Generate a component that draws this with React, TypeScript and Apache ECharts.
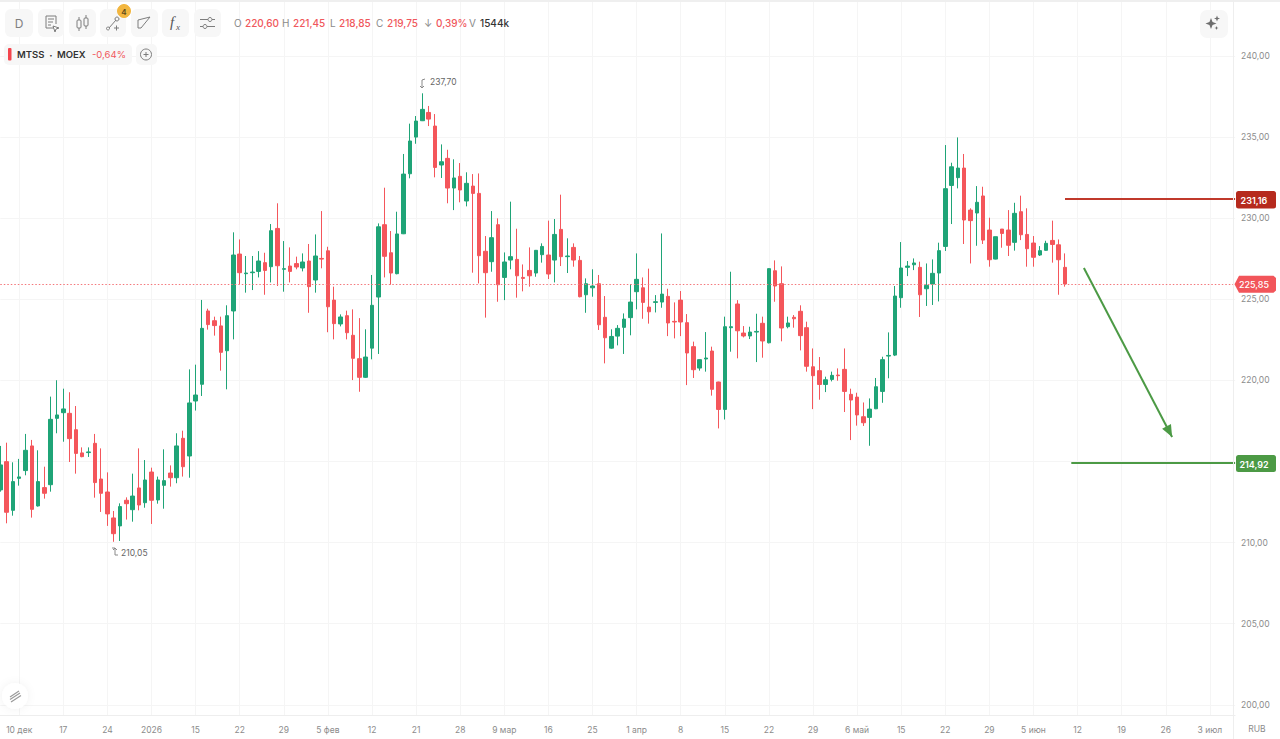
import React, { useEffect, useRef } from "react";
import * as echarts from "echarts";

const opens = [
  213.25,214.99,211.99,213.96,214.44,215.96,212.26,213.39,213.57,217.66,
  218.01,217.97,216.96,215.53,215.55,216.12,213.92,213.12,211.52,211.03,
  212.61,212.03,213.37,212.46,214.35,212.63,213.53,214.29,214.00,216.43,
  215.34,218.73,219.76,224.28,223.68,223.36,221.83,224.28,227.79,226.58,
  226.64,226.72,227.26,227.01,229.37,226.85,227.05,227.20,226.93,227.36,
  226.19,227.52,227.99,224.95,223.48,223.99,222.78,221.34,220.19,221.99,
  225.14,229.60,227.87,226.58,229.04,232.74,235.00,236.01,236.52,235.68,
  233.28,233.69,231.86,232.58,231.06,231.98,231.53,227.96,227.32,229.60,
  226.35,227.42,227.46,226.35,226.78,226.62,227.75,227.73,227.42,229.31,
  227.63,228.20,227.40,225.28,225.71,225.96,223.89,221.99,222.73,223.27,
  223.87,225.47,225.71,224.52,224.81,224.83,225.18,223.64,224.95,223.56,
  222.08,220.76,221.32,221.81,219.90,218.21,223.25,224.71,222.92,222.74,
  222.98,223.52,222.32,226.76,225.96,223.31,223.89,224.26,223.25,220.84,
  220.60,219.75,220.06,220.33,220.68,219.14,218.97,217.76,217.72,218.25,
  219.32,221.50,221.56,225.10,226.97,227.13,226.97,225.65,225.94,226.62,
  228.26,232.02,232.50,233.09,230.50,230.32,231.37,229.27,227.48,229.33,
  229.27,228.51,230.40,229.00,228.47,227.73,228.02,228.63,228.36,226.97,
];
const closes = [
  214.79,211.87,213.76,214.05,215.69,212.05,213.76,213.04,217.60,217.87,
  218.24,216.41,215.50,215.30,215.59,213.70,213.04,211.77,210.55,212.22,
  212.40,212.87,212.32,213.86,212.61,213.86,213.82,214.00,215.96,214.68,
  218.61,219.10,223.21,223.44,223.38,221.73,223.99,227.73,226.64,226.62,
  226.68,227.36,226.78,229.23,227.07,226.89,226.72,226.99,227.30,225.78,
  227.67,227.48,224.54,223.50,223.91,222.94,221.36,220.19,221.44,224.63,
  229.47,227.65,226.62,229.03,232.72,234.76,235.99,236.71,236.11,233.13,
  233.48,231.86,232.48,231.74,232.15,231.53,227.69,226.64,228.80,225.90,
  227.30,227.63,226.45,226.29,226.45,228.02,228.26,226.56,229.00,227.63,
  227.67,227.42,225.16,225.96,225.82,223.43,222.63,222.71,223.21,223.78,
  224.83,226.23,224.81,224.23,224.85,225.32,223.54,223.60,223.60,221.69,
  220.66,221.28,221.38,219.45,218.21,223.31,223.31,223.06,222.74,222.98,
  223.02,222.43,226.89,225.82,223.23,223.54,223.80,222.76,220.87,220.29,
  219.75,220.04,220.31,220.29,219.32,218.79,217.87,217.39,218.23,219.61,
  221.28,221.54,225.20,226.93,227.05,227.24,225.28,225.86,226.60,228.00,
  231.82,233.17,233.09,229.89,229.85,230.98,228.65,227.44,228.86,229.06,
  228.33,230.30,228.98,228.12,227.59,228.00,228.45,228.38,227.44,225.94,
];
const lows = [
  213.14,211.19,211.66,213.51,214.15,211.54,212.22,212.71,213.14,216.74,
  216.22,214.97,214.25,215.26,215.28,212.77,211.89,211.03,210.05,210.10,
  211.42,211.29,211.99,212.15,211.15,212.40,212.09,213.45,213.66,214.07,
  214.00,218.14,219.04,223.13,222.76,220.60,219.45,222.53,225.94,225.41,
  225.57,226.35,225.28,226.04,225.82,225.47,226.04,226.85,226.72,224.17,
  225.41,226.91,222.97,222.53,223.33,222.53,220.02,219.30,220.15,221.30,
  221.63,226.35,225.90,226.54,229.02,232.46,234.59,235.99,235.68,232.52,
  232.48,230.92,230.50,230.98,230.73,226.64,225.98,223.87,226.70,224.85,
  224.95,226.85,225.10,225.49,225.78,226.39,227.26,226.25,226.04,227.05,
  226.62,227.01,225.12,224.17,225.16,223.11,221.05,221.95,222.16,221.63,
  222.78,224.38,223.80,223.50,224.19,224.48,222.73,222.59,222.73,219.71,
  220.15,220.60,220.54,219.06,217.04,217.59,221.77,221.36,222.65,222.55,
  221.13,221.40,222.28,224.85,222.41,223.21,223.25,221.85,220.54,218.23,
  218.81,219.28,219.94,219.98,218.05,216.32,217.21,217.19,215.97,218.23,
  218.62,220.13,221.50,224.48,226.43,226.80,223.91,224.59,224.65,224.87,
  227.98,229.64,231.84,228.41,227.21,228.30,228.41,227.01,227.46,228.18,
  227.67,228.00,228.65,227.01,227.01,227.67,228.00,227.26,225.28,225.78,
];
const highs = [
  215.96,216.16,214.95,215.16,216.70,216.33,215.69,214.68,219.00,220.01,
  219.49,219.27,218.42,215.87,215.87,216.70,215.81,214.33,211.95,212.42,
  212.79,214.25,215.81,215.09,214.62,214.07,215.75,214.76,216.74,216.90,
  220.68,220.97,224.96,224.42,223.93,223.93,224.63,229.13,228.69,227.67,
  227.67,227.97,227.87,229.64,230.92,228.59,228.20,227.63,227.83,228.41,
  229.00,230.44,228.24,225.78,224.07,224.30,224.38,223.84,223.15,226.50,
  229.68,231.88,229.21,230.40,233.96,235.83,236.30,237.70,236.92,236.42,
  234.55,234.22,233.63,233.40,232.83,232.72,232.76,228.90,230.44,229.99,
  227.89,231.02,229.35,227.15,228.20,228.04,228.45,229.85,229.95,231.45,
  228.76,228.45,227.67,226.29,226.85,226.50,225.20,223.15,223.41,224.13,
  225.94,227.83,226.35,226.89,225.26,229.06,225.65,224.81,225.51,224.09,
  222.39,221.30,222.98,222.08,219.92,223.93,226.70,224.95,223.35,223.31,
  224.11,223.93,226.91,227.40,227.03,223.93,224.03,224.63,223.62,221.97,
  221.44,220.23,220.54,220.74,221.97,219.49,219.24,218.64,218.89,220.15,
  221.46,222.96,225.82,228.53,227.36,227.52,227.32,227.21,227.46,228.49,
  234.51,233.42,234.98,233.96,230.61,231.98,231.94,230.03,228.86,229.33,
  230.50,230.95,231.39,230.61,228.90,228.28,228.61,229.85,228.69,227.83,
];

const tickLabels = ["10 дек","17","24","2026","15","22","29","5 фев","12","21","28","9 мар","16","25","1 апр","8","15","22","29","6 май","15","22","29","5 июн","12","19","26","3 июл"];
const gridPrices = [200,205,210,215,220,225,230,235,240];
const labelPrices = [200,205,210,220,225,230,235,240];

const lastPriceText = "225,85";
const lastPriceLevel = 225.94;
const resistance = 231.18;
const resistanceText = "231,16";
const support = 214.94;
const supportText = "214,92";
const trendFrom = [172, 226.93];
const trendTo = [186, 216.51];
const resistanceFromIndex = 169;
const supportFromIndex = 170;
const highMark = "237,70";
const lowMark = "210,05";

const ohlcLine: [string, number, string][] = [
  ["O", 234, "#8a8a8a"], ["220,60", 245, "#f0575c"],
  ["H", 282, "#8a8a8a"], ["221,45", 293, "#f0575c"],
  ["L", 330, "#8a8a8a"], ["218,85", 339, "#f0575c"],
  ["C", 376, "#8a8a8a"], ["219,75", 387, "#f0575c"],
  ["↓", 424, "#8a8a8a"], ["0,39%", 436, "#f0575c"],
  ["V", 469, "#8a8a8a"], ["1544k", 480, "#333333"],
];

const FONT = "Inter, sans-serif";
const GREEN = "#1fa477";
const RED = "#f4565b";
const ICON = "#7d7d7d";
const BTN = "#f7f7f7";
const AXIS_TEXT = "#8c8c8c";
const GRID_LINE = "#f5f5f5";
const fmt = (v: number) => v.toFixed(2).replace(".", ",");

const txt = (text: string, x: number, y: number, fill: string, size: number, weight = 400, align = "left", extra: any = {}) => ({
  type: "text", z: extra.z || 10, style: { text, x, y, fill, font: `${extra.italic ? "italic " : ""}${weight} ${size}px ${extra.family || FONT}`, align, verticalAlign: "middle" },
});
const box = (x: number, y: number, width: number, height: number, fill: string, r = 6) => ({
  type: "rect", z: 9, shape: { x, y, width, height, r }, style: { fill, stroke: "none", lineWidth: 0 },
});
const ln = (points: number[][], stroke = ICON, lineWidth = 1) => ({
  type: "polyline", z: 11, shape: { points }, style: { stroke, lineWidth, fill: "none" },
});
const star = (cx: number, cy: number, r: number) => {
  const k = r * 0.28;
  return { type: "polygon", z: 11, shape: { points: [[cx, cy - r], [cx + k, cy - k], [cx + r, cy], [cx + k, cy + k], [cx, cy + r], [cx - k, cy + k], [cx - r, cy], [cx - k, cy - k]] }, style: { fill: "#6e6e6e" } };
};
const circ = (cx: number, cy: number, r: number, stroke: string, fill = "none", lineWidth = 1) => ({
  type: "circle", z: 11, shape: { cx, cy, r }, style: { stroke, fill, lineWidth },
});

function buildGraphics() {
  const g: any[] = [];
  g.push({ type: "rect", z: 8, shape: { x: 0, y: 0, width: 1280, height: 2 }, style: { fill: "#efefef" } });
  g.push({ type: "line", z: 8, shape: { x1: 1233.5, y1: 0, x2: 1233.5, y2: 739 }, style: { stroke: "#eeeeee", lineWidth: 1 } });

  [[5, 28], [38, 26], [69, 27], [100, 26], [131, 27], [162, 27], [194, 27]].forEach(([x, w]) => g.push(box(x, 9, w, 28, BTN)));
  g.push(txt("D", 19, 23, "#808080", 12, 400, "center"));
  // report icon
  g.push(ln([[55, 28], [46, 28], [46, 16], [56, 16], [56, 24]]), ln([[48, 19], [54, 19]]), ln([[48, 22], [53, 22]]), ln([[48, 25], [51, 25]]));
  g.push({ type: "polygon", z: 11, shape: { points: [[53, 26], [59, 28], [56, 29], [55, 32]] }, style: { stroke: ICON, fill: "#fff", lineWidth: 1 } });
  // candles icon
  g.push({ type: "rect", z: 11, shape: { x: 77, y: 20, width: 4, height: 8, r: 1 }, style: { stroke: ICON, fill: "none" } }, ln([[79, 17], [79, 20]]), ln([[79, 28], [79, 31]]));
  g.push({ type: "rect", z: 11, shape: { x: 84, y: 18, width: 4, height: 8, r: 1 }, style: { stroke: ICON, fill: "none" } }, ln([[86, 15], [86, 18]]), ln([[86, 26], [86, 29]]));
  // drawing tools icon and badge
  g.push(ln([[109, 28], [116, 20]]), circ(108, 28.5, 1.5, ICON), circ(117, 19, 2, ICON), ln([[114, 28], [119, 28]]), ln([[116.5, 25.5], [116.5, 30.5]]));
  g.push(circ(124, 11, 6.5, "#f2b63f", "#f2b63f"), txt("4", 124, 11.5, "#5d4a1a", 8, 600, "center", { z: 12 }));
  // shape icon
  g.push({ type: "polygon", z: 11, shape: { points: [[138, 20], [150, 17], [141, 28], [138, 28]] }, style: { stroke: ICON, fill: "none", lineWidth: 1 } });
  // function icon
  g.push(txt("f", 172, 22, "#555555", 15, 400, "center", { italic: true, family: "'Liberation Serif', serif" }));
  g.push(txt("x", 178, 27, "#555555", 9, 400, "center", { italic: true, family: "'Liberation Serif', serif" }));
  // settings icon
  g.push(ln([[200, 19.5], [215, 19.5]]), ln([[200, 26.5], [215, 26.5]]), circ(210, 19.5, 2, ICON, BTN), circ(205, 26.5, 2, ICON, BTN));

  ohlcLine.forEach(([t, x, c]) => g.push(txt(t, x, 22.5, c, 10, c === "#8a8a8a" ? 400 : 500)));

  g.push(box(4, 44, 128, 21, BTN, 5), box(136, 44, 21, 21, BTN, 5));
  g.push({ type: "rect", z: 10, shape: { x: 8, y: 48, width: 3.5, height: 12.5, r: 1 }, style: { fill: "#f4454d" } });
  g.push(txt("MTSS", 17, 54.5, "#333333", 9.5, 600), txt("·", 51, 54.5, "#333333", 10, 700, "center"), txt("MOEX", 57, 54.5, "#333333", 9.5, 600), txt("-0,64%", 92, 54.5, "#f0575c", 9.5, 400));
  g.push(circ(146, 54.5, 5.5, ICON), ln([[143.5, 54.5], [148.5, 54.5]]), ln([[146, 52], [146, 57]]));

  g.push(box(1200, 10, 28, 28, BTN, 7), star(1211, 23.5, 5.5), star(1217, 18.5, 3), star(1216.5, 28, 2));

  // extreme labels
  g.push(txt(highMark, 430, 82, "#666666", 8.5), ln([[425, 79], [422, 80], [422, 88]], "#8a8a8a"), ln([[420, 86], [422, 88], [424, 86]], "#8a8a8a"));
  g.push(txt(lowMark, 121, 553, "#666666", 8.5), ln([[118, 555], [115, 555], [115, 548], [112, 548]], "#8a8a8a"), ln([[113, 550], [115, 548], [117, 550]], "#8a8a8a"));

  // price tags
  g.push(box(1236, 191, 40, 17.5, "#b62a1d", 2.5), txt(resistanceText, 1254, 200, "#ffffff", 9, 600, "center"));
  g.push({ type: "polygon", z: 9, shape: { points: [[1239, 275.7], [1273.5, 275.7], [1276, 278], [1276, 290.5], [1273.5, 292.8], [1239, 292.8], [1234.5, 284.2]] }, style: { fill: "#f2555a" } });
  g.push(txt(lastPriceText, 1254, 284.5, "#ffffff", 9, 500, "center"));
  g.push(box(1236, 455, 40, 17, "#4c9a45", 2.5), txt(supportText, 1254, 464, "#ffffff", 9, 600, "center"));

  g.push(txt("RUB", 1257, 729, AXIS_TEXT, 8.5, 400, "center"));

  // ruler button
  g.push({ type: "circle", z: 9, shape: { cx: 15, cy: 696, r: 13 }, style: { fill: "#ffffff", stroke: "none", shadowBlur: 8, shadowColor: "rgba(0,0,0,0.06)" } });
  g.push(ln([[10, 697], [19, 691]], "#9a9a9a", 1.2), ln([[10, 699.5], [20, 693]], "#9a9a9a", 1.2), ln([[11, 702], [21, 695.5]], "#9a9a9a", 1.2));
  return g;
}

export default function App() {
  const ref = useRef<HTMLDivElement>(null);
  useEffect(() => {
    if (!ref.current) return;
    const chart = echarts.init(ref.current, undefined, { renderer: "svg" });
    const categoryCount = 197;
    const categories = Array.from({ length: categoryCount }, (_, i) =>
      i % 7 === 3 && tickLabels[(i - 3) / 7] ? tickLabels[(i - 3) / 7] : String(i)
    );
    const isTick = (i: number) => i % 7 === 3;
    const seg = (fromI: number, fromV: number, toI: number, toV: number, color: string, endSymbol = "none") => [
      { coord: [fromI, fromV], symbol: "none", lineStyle: { color, width: 2, type: "solid" } },
      { coord: [toI, toV], symbol: endSymbol, symbolSize: [10, 12], symbolOffset: [0, 6], itemStyle: { color } },
    ];
    chart.setOption({
      animation: false,
      backgroundColor: "#ffffff",
      textStyle: { fontFamily: FONT },
      grid: { left: 0.3, width: 1234.8, top: 0, height: 715, containLabel: false },
      xAxis: {
        type: "category",
        data: categories,
        boundaryGap: false,
        axisLine: { lineStyle: { color: "#eeeeee" } },
        axisTick: { show: false },
        axisLabel: { interval: (i: number) => isTick(i), color: AXIS_TEXT, fontSize: 8.5, margin: 10, fontFamily: FONT },
        splitLine: { show: true, interval: (i: number) => isTick(i), lineStyle: { color: GRID_LINE } },
      },
      yAxis: {
        type: "value",
        position: "right",
        scale: true,
        min: 199.371,
        max: 243.453,
        axisLine: { show: false },
        axisTick: { show: false, customValues: gridPrices },
        axisLabel: { customValues: labelPrices, formatter: (v: number) => fmt(v), color: AXIS_TEXT, fontSize: 8.5, margin: 6, padding: [2, 0, 0, 0], fontFamily: FONT },
        splitLine: { show: true, lineStyle: { color: GRID_LINE } },
      },
      series: [
        {
          type: "candlestick",
          barWidth: 4,
          data: opens.map((o, i) => [o, closes[i], lows[i], highs[i]]),
          itemStyle: { color: GREEN, color0: RED, borderColor: GREEN, borderColor0: RED, borderWidth: 1 },
          markLine: {
            silent: true,
            animation: false,
            symbol: ["none", "none"],
            label: { show: false },
            data: [
              { yAxis: lastPriceLevel, lineStyle: { color: "#f4767a", width: 1, type: [1.5, 2] } },
              seg(resistanceFromIndex, resistance, categoryCount - 1, resistance, "#c0392b"),
              seg(supportFromIndex, support, categoryCount - 1, support, "#4c9a45"),
              seg(trendFrom[0], trendFrom[1], trendTo[0], trendTo[1], "#4c9a45", "triangle"),
            ],
          },
        },
      ],
      graphic: { elements: buildGraphics() },
    });
    return () => chart.dispose();
  }, []);
  return <div ref={ref} style={{ position: "fixed", left: 0, top: 0, width: 1280, height: 739 }} />;
}
